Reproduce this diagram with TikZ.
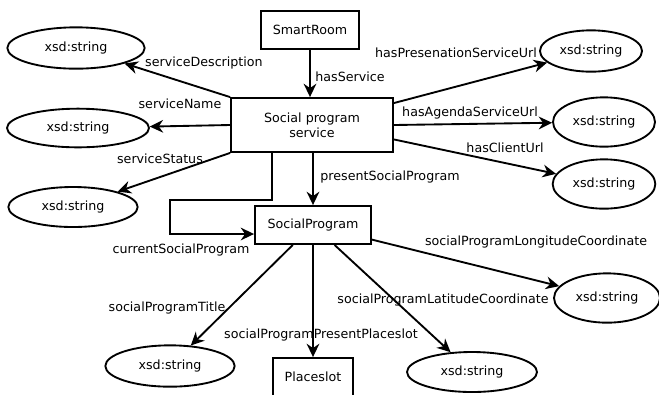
\documentclass[tikz,border=0pt]{standalone}
\usepackage{fontspec}
\setmainfont{DejaVu Sans}
\usetikzlibrary{arrows.meta, shapes.geometric}
\begin{document}
\begin{tikzpicture}[
  x=0.75pt, y=-0.75pt,
  every node/.style={font=\fontsize{9.5}{11}\selectfont, inner sep=0pt},
  cls/.style={draw, line width=1.4pt, minimum height=28.5pt, align=center},
  lit/.style={draw, ellipse, line width=1.4pt},
  rel/.style={-{Stealth[length=10pt, width=9.5pt]}, line width=1.4pt}
]
\useasboundingbox (0,0) rectangle (659,394);
\node[cls, minimum width=74pt] (smart) at (310,30) {SmartRoom};
\node[cls, minimum width=121.5pt, minimum height=40.5pt] (social) at (312,125) {Social program\\service};
\node[cls, minimum width=87pt] (sp) at (313,225) {SocialProgram};
\node[cls, minimum width=60pt] (place) at (313,377) {Placeslot};
\node[lit, minimum width=103pt, minimum height=31pt] (desc) at (76,48) {xsd:string};
\node[lit, minimum width=106.5pt, minimum height=29pt] (name) at (78,128) {xsd:string};
\node[lit, minimum width=97pt, minimum height=30pt] (status) at (73,207) {xsd:string};
\node[lit, minimum width=76.5pt, minimum height=31pt] (pres) at (591,51) {xsd:string};
\node[lit, minimum width=76.5pt, minimum height=37pt] (agenda) at (604,122) {xsd:string};
\node[lit, minimum width=77pt, minimum height=37pt] (client) at (604,184) {xsd:string};
\node[lit, minimum width=97pt, minimum height=31pt] (title) at (170,366) {xsd:string};
\node[lit, minimum width=97.5pt, minimum height=30pt] (lat) at (472,372) {xsd:string};
\node[lit, minimum width=79.5pt, minimum height=37pt] (long) at (607,298) {xsd:string};
\coordinate (cspA) at (272,200);
\coordinate (cspB) at (170,234);
\draw[rel] (smart.south) -- (smart.south |- social.north);
\draw[rel] (social.north west) -- (desc);
\draw[rel] (social.west) -- (name);
\draw[rel] (social.south west) -- (status);
\draw[rel] (social.15) -- (pres);
\draw[rel] (social.east) -- (agenda);
\draw[rel] (social.-10) -- (client);
\draw[rel] (sp.north |- social.south) -- (sp.north);
\draw[rel] (cspA |- social.south) -- (cspA) -| (cspB) -- (cspB -| sp.west);
\draw[rel] (sp) -- (title);
\draw[rel] (sp.south) -- (place.north);
\draw[rel] (sp) -- (lat);
\draw[rel] (sp) -- (long);
\node (lService) at (350,77) {hasService};
\node (lDesc) at (204,63) {serviceDescription};
\node (lName) at (180,104) {serviceName};
\node (lStatus) at (160,159) {serviceStatus};
\node (lPres) at (456,53) {hasPresenationServiceUrl};
\node (lAgenda) at (470,113) {hasAgendaServiceUrl};
\node (lClient) at (505,148) {hasClientUrl};
\node (lPresent) at (390,177) {presentSocialProgram};
\node (lCurrent) at (181,250) {currentSocialProgram};
\node (lTitle) at (167,308) {socialProgramTitle};
\node (lPlace) at (321,335) {socialProgramPresentPlaceslot};
\node (lLat) at (443,300) {socialProgramLatitudeCoordinate};
\node (lLong) at (536,242) {socialProgramLongitudeCoordinate};
\end{tikzpicture}
\end{document}
